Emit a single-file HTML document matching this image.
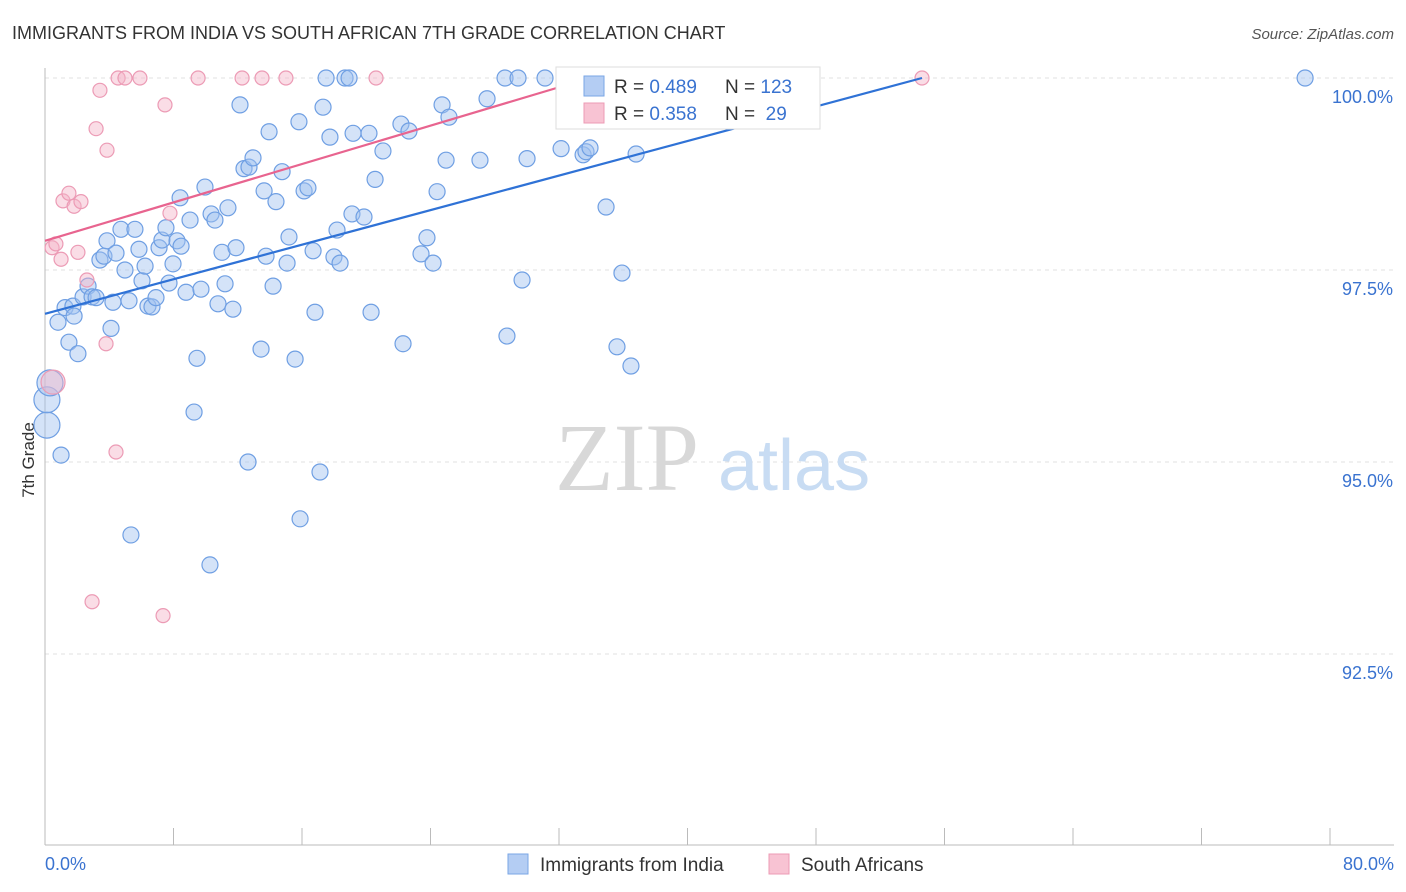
<!DOCTYPE html>
<html><head><meta charset="utf-8"><style>
body{margin:0;background:#fff;font-family:"Liberation Sans",sans-serif;}
svg{display:block}
</style></head><body>
<svg id="chart" width="1406" height="892">
<text x="12" y="39" font-size="18" fill="#333">IMMIGRANTS FROM INDIA VS SOUTH AFRICAN 7TH GRADE CORRELATION CHART</text>
<text x="1394" y="39" font-size="15" fill="#555" text-anchor="end" font-style="italic">Source: ZipAtlas.com</text>
<text x="34" y="460" font-size="17" fill="#333" text-anchor="middle" transform="rotate(-90 34 460)">7th Grade</text>
<g id="grid"></g>
<text x="555" y="490" font-size="96" fill="#d8d8d8" font-family="Liberation Serif,serif">ZIP</text>
<text x="718" y="490" font-size="72" fill="#c8dcf3">atlas</text>
<g id="marks"></g>
<g>
<rect x="556" y="67" width="264" height="62" fill="#fff" stroke="#ddd"/>
<rect x="584" y="76" width="20" height="20" fill="#b4cdf3" stroke="#7aa6e6"/>
<rect x="584" y="103" width="20" height="20" fill="#f8c3d3" stroke="#ec9bb5"/>
<text x="614" y="93" font-size="19" fill="#333">R = <tspan fill="#3a73d0">0.489</tspan></text>
<text x="725" y="93" font-size="19" fill="#333">N = <tspan fill="#3a73d0">123</tspan></text>
<text x="614" y="120" font-size="19" fill="#333">R = <tspan fill="#3a73d0">0.358</tspan></text>
<text x="725" y="120" font-size="19" fill="#333">N = <tspan fill="#3a73d0">&#160;29</tspan></text>
</g>
<g>
<rect x="508" y="854" width="20" height="20" fill="#b4cdf3" stroke="#7aa6e6"/>
<text x="540" y="871" font-size="19" fill="#333">Immigrants from India</text>
<rect x="769" y="854" width="20" height="20" fill="#f8c3d3" stroke="#ec9bb5"/>
<text x="801" y="871" font-size="19" fill="#333">South Africans</text>
</g>
</svg>
<script>
const yTicks=[100,97.5,95,92.5];
const yTickLabels=["100.0%","97.5%","95.0%","92.5%"];
const xTickCount=10;
const xLabels=["0.0%","80.0%"];
const indiaX=[0.12,0.12,0.31,1.00,0.81,1.25,1.49,1.74,1.81,2.05,2.37,2.68,2.93,3.18,3.42,3.67,3.86,4.11,4.23,4.42,4.73,4.98,5.23,5.60,5.85,6.04,6.23,6.41,6.66,6.91,7.10,7.28,7.53,7.72,7.97,8.22,8.47,8.41,8.78,9.03,9.28,9.46,9.71,9.96,10.34,10.58,10.77,11.02,11.21,11.39,11.70,11.89,12.14,12.39,12.70,12.95,12.64,13.45,13.64,13.76,13.95,14.20,14.38,14.76,15.07,15.19,15.57,15.81,15.88,16.13,16.37,16.69,16.81,17.12,17.31,17.50,17.74,17.99,18.18,18.37,18.68,18.93,19.11,19.18,19.86,20.17,20.30,20.55,21.04,22.16,22.29,22.66,23.41,23.78,24.16,24.41,24.72,24.97,25.15,27.08,27.52,28.64,28.76,29.45,29.70,30.01,31.13,32.13,33.50,33.68,33.93,34.93,35.61,35.92,36.48,36.80,40.72,78.45,10.27,5.35];
const indiaY=[95.48,95.81,96.03,95.09,96.82,97.01,96.56,97.03,96.90,96.41,97.15,97.29,97.15,97.14,97.63,97.68,97.88,96.74,97.08,97.72,98.03,97.50,97.10,98.03,97.77,97.36,97.55,97.03,97.02,97.14,97.79,97.89,98.05,97.33,97.58,97.88,97.81,98.44,97.21,98.15,95.65,96.35,97.25,98.58,98.23,98.15,97.06,97.73,97.32,98.31,96.99,97.79,99.65,98.82,98.84,98.96,95.00,96.47,98.53,97.68,99.30,97.29,98.39,98.78,97.59,97.93,96.34,99.43,94.26,98.53,98.57,97.75,96.95,94.87,99.62,100,99.23,97.67,98.02,97.59,100,100,98.23,99.28,98.19,99.28,96.95,98.68,99.05,99.40,96.54,99.31,97.71,97.92,97.59,98.52,99.65,98.93,99.49,98.93,99.73,100,96.64,100,97.37,98.95,100,99.08,99.00,99.04,99.09,98.32,96.50,97.46,96.25,99.01,100,100,93.66,94.05];
const indiaBig=[0,1,2];
const saX=[0.50,0.44,0.68,1.00,1.12,1.49,1.81,2.05,2.24,2.61,3.18,3.42,3.86,3.80,4.42,2.93,7.35,4.55,4.98,5.91,7.47,7.78,9.53,12.27,13.51,15.00,20.61,54.60];
const saY=[96.04,97.79,97.84,97.64,98.40,98.50,98.33,97.73,98.39,97.37,99.34,99.84,99.06,96.54,95.13,93.18,93.00,100,100,100,99.65,98.24,100,100,100,100,100,100];
const saBig=[0];
const indiaTrend=[[0,96.93],[54.6,100]];
const saTrend=[[0,97.88],[33.93,100]];
const X0=45,X1=1330,Y0=78,Ypx=76.8;
const xs=v=>X0+v/80*(X1-X0);
const ys=v=>Y0+(100-v)*Ypx;
const NS="http://www.w3.org/2000/svg";
function mk(tag,attrs,parent){const e=document.createElementNS(NS,tag);for(const k in attrs)e.setAttribute(k,attrs[k]);parent.appendChild(e);return e;}
const grid=document.getElementById('grid'),marks=document.getElementById('marks');
yTicks.forEach((t,i)=>{
 const l=mk('line',{x1:X0,x2:1394,y1:ys(t),y2:ys(t),stroke:'#e2e2e2','stroke-dasharray':'4,4'},grid);
 
 
 const tx=mk('text',{x:1393,y:ys(t)+25,'font-size':18,fill:'#3a73d0','text-anchor':'end'},grid);
 tx.textContent=yTickLabels[i];
 
 
});
const ax=mk('line',{x1:X0,x2:1394,y1:845,y2:845,stroke:'#bbb'},grid);


const ay=mk('line',{x1:X0,x2:X0,y1:68,y2:845,stroke:'#bbb'},grid);


for(let i=0;i<=xTickCount;i++){
 const x=xs(i*80/xTickCount);
 const t=mk('line',{x1:x,x2:x,y1:828,y2:845,stroke:'#bbb'},grid);
 
 
}
[[0,'start',45],[80,'end',1394]].forEach((d,i)=>{
 const t=mk('text',{x:d[2],y:870,'font-size':18,fill:'#3a73d0','text-anchor':d[1]},grid);
 t.textContent=xLabels[i];
 
 
});
indiaX.forEach((v,i)=>{
 const c=mk('circle',{cx:xs(v),cy:ys(indiaY[i]),r:indiaBig.includes(i)?13:8,fill:'rgba(160,192,240,0.45)',stroke:'#6f9fe3','stroke-width':1.2},marks);
 
 
});
saX.forEach((v,i)=>{
 const c=mk('circle',{cx:xs(v),cy:ys(saY[i]),r:saBig.includes(i)?12:7,fill:'rgba(245,180,200,0.45)',stroke:'#ec9bb5','stroke-width':1.2},marks);
 
 
});
const tl1=mk('line',{x1:xs(indiaTrend[0][0]),y1:ys(indiaTrend[0][1]),x2:xs(indiaTrend[1][0]),y2:ys(indiaTrend[1][1]),stroke:'#2f72d6','stroke-width':2.2},marks);


const tl2=mk('line',{x1:xs(saTrend[0][0]),y1:ys(saTrend[0][1]),x2:xs(saTrend[1][0]),y2:ys(saTrend[1][1]),stroke:'#e8648f','stroke-width':2.2},marks);


</script>
</body></html>
